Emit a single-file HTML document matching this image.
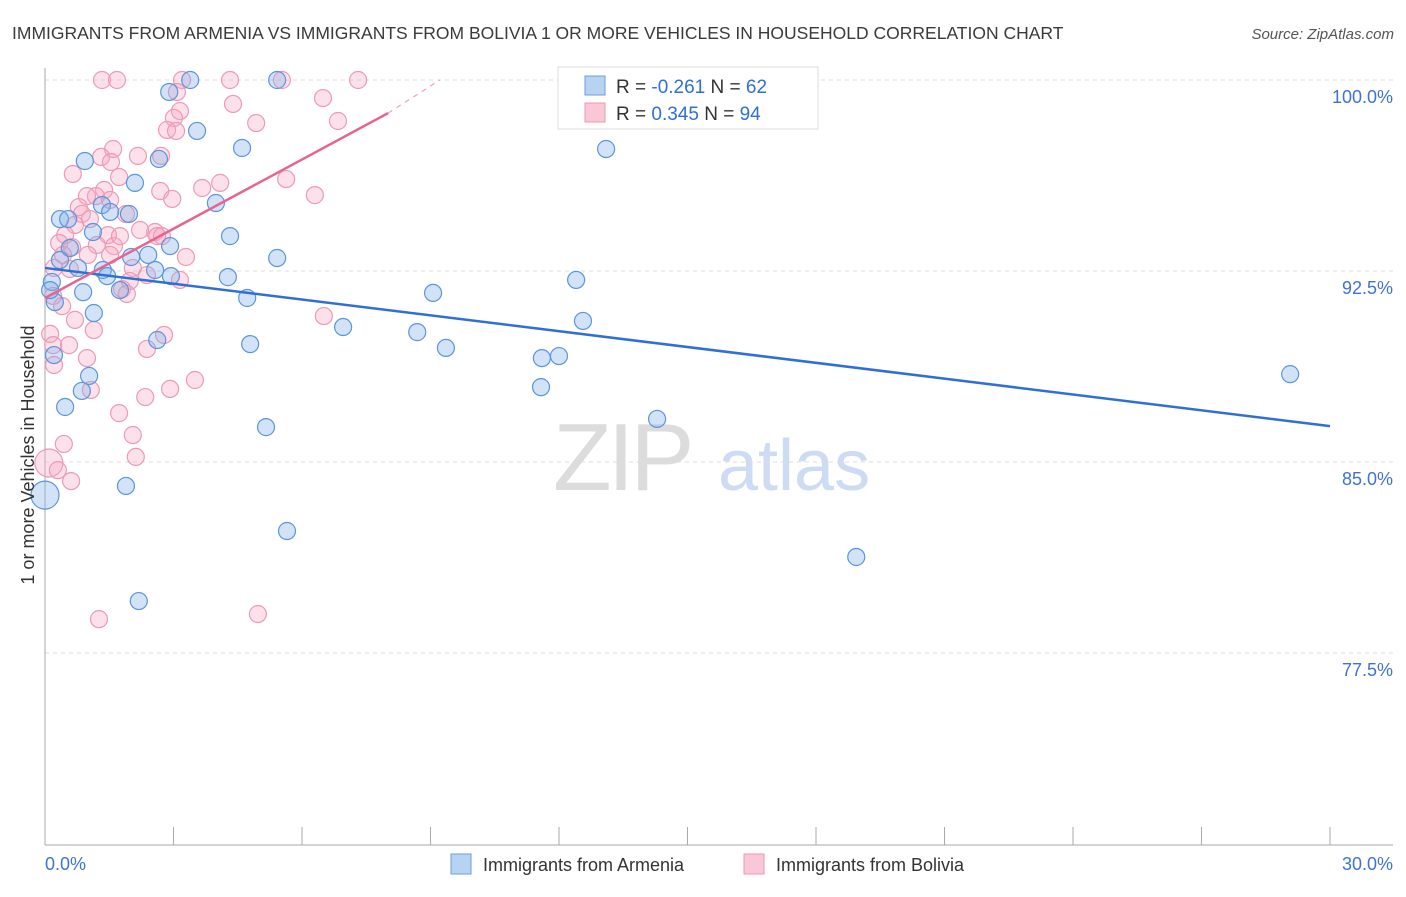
<!DOCTYPE html>
<html><head><meta charset="utf-8"><style>
body{margin:0;background:#fff;font-family:"Liberation Sans",sans-serif;}
svg text{font-family:"Liberation Sans",sans-serif;}
</style></head><body>
<svg id="chart" width="1406" height="892" viewBox="0 0 1406 892" xmlns="http://www.w3.org/2000/svg">
<text x="12" y="39" font-size="17.5" fill="#3a3a3a">IMMIGRANTS FROM ARMENIA VS IMMIGRANTS FROM BOLIVIA 1 OR MORE VEHICLES IN HOUSEHOLD CORRELATION CHART</text>
<text x="1394" y="39" font-size="15" fill="#555" text-anchor="end" font-style="italic">Source: ZipAtlas.com</text>
<g>
<text x="553" y="490" font-size="96" fill="#dcdcdc" font-family="Liberation Serif" letter-spacing="-4">ZIP</text>
<text x="718" y="490" font-size="72" fill="#cddcf2">atlas</text>
</g>
<g id="grid"></g><g id="axes"></g><g id="marks"></g><g id="trends"></g>
<g>
<rect x="558" y="67" width="260" height="62" fill="#fff" stroke="#ddd"/>
<rect x="585" y="76" width="20" height="19" fill="#b8d2f2" stroke="#6a9edf"/>
<rect x="585" y="103" width="20" height="19" fill="#f9c7d6" stroke="#ec9ab5"/>
<text x="616" y="93" font-size="19" fill="#333">R = <tspan fill="#2f6fd6">-0.261</tspan>   N = <tspan fill="#2f6fd6">62</tspan></text>
<text x="616" y="120" font-size="19" fill="#333">R =  <tspan fill="#2f6fd6">0.345</tspan>   N = <tspan fill="#2f6fd6">94</tspan></text>
</g>
<g>
<rect x="451" y="854" width="20" height="20" fill="#b8d2f2" stroke="#6a9edf"/>
<text x="483" y="871" font-size="18" fill="#333">Immigrants from Armenia</text>
<rect x="744" y="854" width="20" height="20" fill="#f9c7d6" stroke="#ec9ab5"/>
<text x="776" y="871" font-size="18" fill="#333">Immigrants from Bolivia</text>
</g>
<text transform="translate(34,455) rotate(-90)" text-anchor="middle" font-size="18" fill="#333">1 or more Vehicles in Household</text>
</svg>
<script>
const yTicks=[100,92.5,85,77.5];
const yTickLabels=["100.0%","92.5%","85.0%","77.5%"];
const xTicks=[0,3,6,9,12,15,18,21,24,27,30];
const xEndLabels=["0.0%","30.0%"];
const armeniaX=[3.39,5.42,2.90,3.55,4.60,0.93,2.66,13.10,2.10,3.99,0.35,0.54,1.33,1.96,1.52,1.12,4.32,2.92,2.41,0.58,2.01,5.42,0.35,0.77,1.35,2.57,1.45,2.94,4.27,0.16,12.40,0.89,1.75,4.72,9.06,0.23,1.14,12.56,6.96,8.69,2.62,4.79,9.36,0.21,11.60,12.00,1.03,0.86,11.58,29.07,0.47,14.29,5.16,1.89,0.00,5.65,18.94,2.19,0.12];
const armeniaY=[100,100,99.53,98.00,97.33,96.82,96.90,97.29,95.96,95.17,94.54,94.54,95.09,94.74,94.82,94.03,93.87,93.48,93.13,93.40,93.05,93.01,92.93,92.62,92.54,92.54,92.30,92.30,92.26,92.07,92.15,91.67,91.75,91.44,91.64,91.28,90.85,90.54,90.30,90.10,89.79,89.63,89.48,89.20,89.08,89.16,88.38,87.79,87.94,88.45,87.16,86.69,86.37,84.06,83.70,82.29,81.27,79.54,91.75];
const boliviaX=[1.33,1.68,3.20,4.32,5.53,7.31,3.08,4.39,3.15,6.49,3.01,4.93,6.84,2.85,3.06,1.59,2.71,2.17,1.31,1.54,1.73,0.65,4.09,3.67,2.69,1.38,1.19,0.98,2.97,5.63,6.30,1.52,0.79,0.86,1.89,1.05,0.70,0.47,1.47,2.57,2.62,0.33,0.63,1.21,1.61,2.73,0.42,1.00,1.52,3.29,2.05,0.21,0.58,2.38,1.98,1.80,1.91,0.19,3.15,0.40,0.70,1.14,0.12,2.78,0.19,0.56,2.38,0.98,0.21,3.50,2.92,2.34,1.07,1.73,2.05,0.44,2.12,0.09,0.30,0.61,6.51,4.97,1.26,2.22,1.75];
const boliviaY=[100,100,100,100,100,100,99.53,99.06,98.78,99.29,98.51,98.31,98.39,98.04,98.00,97.29,97.02,97.02,96.98,96.78,96.19,96.31,95.96,95.76,95.64,95.68,95.44,95.44,95.33,96.11,95.48,95.29,95.01,94.74,94.74,94.54,94.31,93.91,93.91,94.03,93.87,93.60,93.44,93.52,93.48,93.87,93.13,93.13,93.13,93.05,92.62,92.62,92.58,92.34,92.11,91.79,91.60,91.52,92.15,91.12,90.58,90.18,90.03,89.99,89.59,89.59,89.44,89.08,88.81,88.22,87.87,87.55,87.83,86.92,86.06,85.71,85.20,84.96,84.68,84.25,90.73,79.03,78.83,94.11,93.87];
const armeniaTrend=[[0,92.62],[30,86.41]];
const boliviaTrend=[[0,91.44],[8.01,98.70]];
const boliviaTrendExt=[[8.01,98.70],[9.22,100]];

const X0=45,X1=1330,Y0=80,YPER=191/7.5;
const sx=v=>X0+(v/30)*(X1-X0);
const sy=v=>Y0+(100-v)*YPER;
const NS="http://www.w3.org/2000/svg";
function mk(tag,attrs,parent){const e=document.createElementNS(NS,tag);for(const k in attrs)e.setAttribute(k,attrs[k]);parent.appendChild(e);return e;}
const grid=document.getElementById('grid'),axes=document.getElementById('axes'),marks=document.getElementById('marks'),trends=document.getElementById('trends');
yTicks.forEach((t,i)=>{
  const l=mk('line',{x1:X0,x2:1393,y1:sy(t),y2:sy(t),stroke:'#ddd','stroke-dasharray':'4,4'},grid);
  
  
  const tx=mk('text',{x:1393,y:sy(t)+23,'font-size':18,fill:'#3f73d3','text-anchor':'end'},axes);
  tx.textContent=yTickLabels[i];
  
  
});
const ax=mk('line',{x1:X0,x2:X0,y1:68,y2:845,stroke:'#aaa'},axes);


const bx=mk('line',{x1:X0,x2:1393,y1:845,y2:845,stroke:'#aaa'},axes);


xTicks.forEach(t=>{
  const l=mk('line',{x1:sx(t),x2:sx(t),y1:827,y2:845,stroke:'#aaa'},axes);
  
  
});
const xl0=mk('text',{x:45,y:870,'font-size':18,fill:'#3f73d3'},axes);xl0.textContent=xEndLabels[0];


const xl1=mk('text',{x:1393,y:870,'font-size':18,fill:'#3f73d3','text-anchor':'end'},axes);xl1.textContent=xEndLabels[1];


boliviaX.forEach((x,i)=>{
  const big=(boliviaY[i]===84.96);
  const c=mk('circle',{cx:sx(x),cy:sy(boliviaY[i]),r:big?14:8.5,fill:'rgba(246,170,196,0.35)',stroke:'#ec9ab5','stroke-width':1.2},marks);
  
  
});
armeniaX.forEach((x,i)=>{
  const big=(x===0);
  const c=mk('circle',{cx:sx(x),cy:sy(armeniaY[i]),r:big?14:8.5,fill:'rgba(130,175,232,0.35)',stroke:'#5b95dd','stroke-width':1.2},marks);
  
  
});
const tl=(d,col,dash,name,w)=>{const l=mk('line',{x1:sx(d[0][0]),y1:sy(d[0][1]),x2:sx(d[1][0]),y2:sy(d[1][1]),stroke:col,'stroke-width':w},trends);if(dash)l.setAttribute('stroke-dasharray',dash);
  
  };
tl(armeniaTrend,'#2f6fd6',null,'armenia-trend-line',2.5);
tl(boliviaTrend,'#e8648f',null,'bolivia-trend-line',2.5);
tl(boliviaTrendExt,'#f0a0b8','5,5','bolivia-trend-extension',1.2);
</script>
</body></html>
